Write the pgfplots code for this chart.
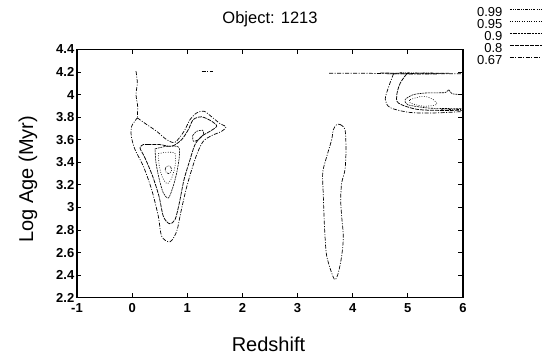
\documentclass[border=0pt]{standalone}
\usepackage{pgfplots}
\pgfplotsset{compat=1.18}
\usepackage{fontspec}
\setmainfont{Liberation Sans}

\tikzset{
 s99/.style={black, line width=0.6pt, dash pattern=on 2.5pt off 1.2pt on 0.8pt off 1.2pt on 0.8pt off 1.2pt},
 s95/.style={black, line width=0.6pt, dash pattern=on 0.8pt off 1.6pt},
 s90/.style={black, line width=0.6pt, dash pattern=on 2pt off 0.8pt},
 s80/.style={black, line width=0.75pt, dash pattern=on 4pt off 1pt},
 s67/.style={black, line width=0.7pt, dash pattern=on 4pt off 1.5pt on 1pt off 1.5pt},
}
\newcommand{\tickfont}{\fontsize{13}{13}\selectfont\bfseries}

\begin{document}
\begin{tikzpicture}
\useasboundingbox (0,0) rectangle (547pt,355pt);
\begin{axis}[
 at={(77pt,57.3pt)}, anchor=south west,
 scale only axis, width=386pt, height=248.2pt,
 xmin=-1, xmax=6, ymin=2.2, ymax=4.4,
 xtick={-1,0,1,2,3,4,5,6},
 xticklabels={-1,0,1,2,3,4,5,6},
 ytick={2.2,2.4,2.6,2.8,3.0,3.2,3.4,3.6,3.8,4.0,4.2,4.4},
 yticklabels={2.2,2.4,2.6,2.8,3,3.2,3.4,3.6,3.8,4,4.2,4.4},
 tick align=inside, tick pos=both,
 major tick length=4.5pt,
 axis line style={line width=1.1pt},
 tick style={line width=0.8pt, black},
 xticklabel style={font=\tickfont, inner sep=0pt, yshift=-6pt},
 yticklabel style={font=\tickfont, inner sep=0pt, xshift=-2.5pt},
 title={Object: 1213},
 title style={font=\fontsize{16.5}{16.5}\selectfont, inner sep=0pt, at={(axis description cs:0.5,1.079)}, anchor=base},
 xlabel={Redshift},
 xlabel style={font=\fontsize{20}{20}\selectfont, inner sep=0pt, at={(axis description cs:0.496,-0.215)}, anchor=base},
 ylabel={Log Age (Myr)},
 ylabel style={font=\fontsize{20}{20}\selectfont, inner sep=0pt, at={(axis description cs:-0.127,0.478)}, anchor=center},
 legend style={at={(axis description cs:1.036,1.171)}, anchor=north west, draw=none, fill=none,
   inner sep=0pt, row sep=2.5pt, column sep=7pt,
   font=\fontsize{13}{13}\selectfont,
   nodes={inner sep=0pt, text height=9.5pt, text depth=0pt}},
 legend cell align=right,
 legend plot pos=right,
 legend image code/.code={\draw[#1] (0pt,3pt) -- (32pt,3pt);},
]
\addlegendimage{s99}\addlegendentry{0.99}
\addlegendimage{s95}\addlegendentry{0.95}
\addlegendimage{s90}\addlegendentry{0.9}
\addlegendimage{s80}\addlegendentry{0.8}
\addlegendimage{s67}\addlegendentry{0.67}

% ---- left group ----
\addplot[s67, smooth, tension=0.5, forget plot] coordinates {
(0.070,4.208) (0.094,4.104) (0.070,4.001) (0.100,3.897) (0.094,3.794)};
\addplot[s67, forget plot] coordinates {(1.26,4.205) (1.47,4.205)};
\addplot[s67, smooth, tension=0.5, forget plot] coordinates {
(0.094,3.794) (0.264,3.735) (0.445,3.675) (0.626,3.601) (0.778,3.578) (0.941,3.675)
(1.050,3.779) (1.171,3.838) (1.303,3.853) (1.443,3.803) (1.594,3.743) (1.703,3.714)
(1.624,3.675) (1.443,3.637) (1.291,3.587) (1.183,3.483) (1.080,3.335) (0.977,3.158)
(0.880,2.951) (0.808,2.788) (0.687,2.696) (0.536,2.744) (0.475,2.921) (0.354,3.158)
(0.203,3.365) (0.052,3.513) (-0.015,3.631) (-0.008,3.720) (0.094,3.794)};
\addplot[s80, smooth, tension=0.5, forget plot] coordinates {
(0.276,3.557) (0.505,3.557) (0.717,3.542) (0.898,3.601) (1.019,3.690) (1.110,3.779)
(1.261,3.803) (1.443,3.764) (1.533,3.720) (1.412,3.675) (1.261,3.631) (1.140,3.557)
(1.050,3.424) (0.941,3.247) (0.856,3.040) (0.778,2.892) (0.675,2.856) (0.566,2.921)
(0.487,3.099) (0.372,3.276) (0.233,3.439) (0.143,3.527) (0.203,3.557) (0.276,3.557)};
\addplot[s90, smooth, tension=0.5, forget plot] coordinates {
(0.415,3.519) (0.626,3.542) (0.838,3.536) (0.856,3.454) (0.808,3.306) (0.735,3.173)
(0.657,3.084) (0.566,3.128) (0.493,3.247) (0.433,3.394) (0.415,3.519)};
\addplot[s90, smooth, tension=0.5, forget plot] coordinates {
(1.098,3.637) (1.171,3.675) (1.279,3.684) (1.291,3.646) (1.201,3.601) (1.110,3.587) (1.098,3.637)};
\addplot[s95, smooth, tension=0.5, forget plot] coordinates {
(0.475,3.477) (0.626,3.489) (0.778,3.477) (0.778,3.365) (0.717,3.261) (0.638,3.211)
(0.554,3.261) (0.493,3.365) (0.475,3.477)};
\addplot[s99, smooth, tension=0.6, forget plot] coordinates {
(0.600,3.335) (0.617,3.360) (0.657,3.370) (0.697,3.360) (0.717,3.335) (0.697,3.310)
(0.657,3.300) (0.617,3.310) (0.600,3.335)};

% ---- vertical contour near z=3.7 ----
\addplot[s67, smooth, tension=0.5, forget plot] coordinates {
(3.770,3.735) (3.860,3.690) (3.878,3.510) (3.860,3.335) (3.800,3.217) (3.782,3.070)
(3.800,2.920) (3.830,2.740) (3.800,2.570) (3.739,2.420) (3.679,2.360) (3.618,2.420)
(3.528,2.570) (3.498,2.740) (3.480,2.920) (3.465,3.130) (3.456,3.310) (3.528,3.450)
(3.618,3.600) (3.649,3.690) (3.709,3.735) (3.770,3.735)};

% ---- top-right group ----
\addplot[s67, forget plot] coordinates {(3.57,4.190) (4.2,4.190) (4.6,4.186) (5.2,4.182) (6.0,4.186)};
\addplot[s80, forget plot] coordinates {(4.50,4.192) (5.0,4.188) (5.75,4.190)};
\addplot[s90, forget plot] coordinates {(4.65,4.184) (5.1,4.184) (5.60,4.186)};
\addplot[s99, forget plot] coordinates {(4.85,4.194) (5.45,4.192)};
\addplot[s67, smooth, tension=0.5, forget plot] coordinates {
(4.74,4.185) (4.66,4.08) (4.59,3.96) (4.68,3.885) (5.04,3.842) (5.5,3.838) (6.0,3.850)};
\addplot[s80, smooth, tension=0.5, forget plot] coordinates {
(4.98,4.185) (4.86,4.10) (4.80,4.00) (4.83,3.925) (5.16,3.870) (5.6,3.860) (6.0,3.862)};
\addplot[s90, smooth, tension=0.4, forget plot] coordinates {
(6.0,4.000) (5.80,4.008) (5.74,4.045) (5.68,4.018) (5.34,4.015) (5.10,4.000) (4.95,3.956)
(5.00,3.910) (5.40,3.880) (6.0,3.876)};
\addplot[s95, smooth, tension=0.5, forget plot] coordinates {
(5.04,3.956) (5.28,3.986) (5.46,3.956) (5.52,3.912) (5.28,3.897) (5.04,3.927) (5.04,3.956)};
\addplot[s99, smooth, tension=0.5, forget plot] coordinates {
(5.6,3.870) (5.8,3.868) (6.0,3.868)};
\end{axis}
\end{tikzpicture}
\end{document}
